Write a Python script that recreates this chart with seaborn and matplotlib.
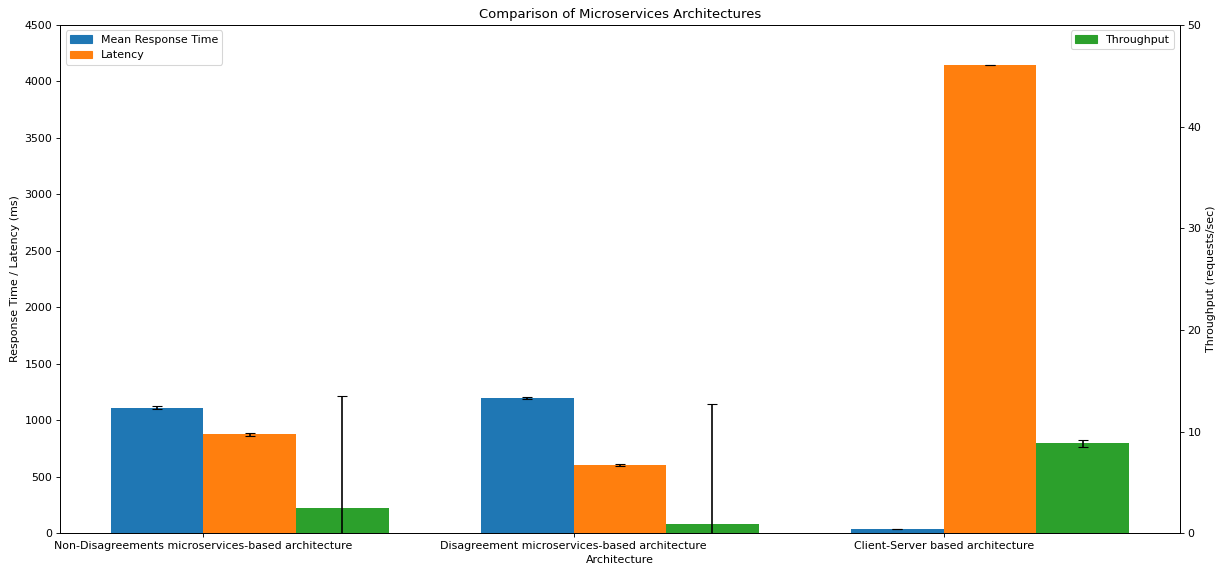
import numpy as np
import pandas as pd
import matplotlib
matplotlib.use("Agg")
import matplotlib.pyplot as plt
from matplotlib.patches import Patch
import seaborn as sns

architectures = [
    "Non-Disagreements microservices-based architecture",
    "Disagreement microservices-based architecture",
    "Client-Server based architecture",
]
mean_response_time = [1112, 1196, 38]
mean_response_err = [12, 10, 3]
latency = [874, 604, 4146]
latency_err = [12, 8, 2]
throughput = [2.49, 0.86, 8.83]
throughput_err = [11.02, 11.87, 0.38]

blue, orange, green = "#1f77b4", "#ff7f0e", "#2ca02c"
width = 0.25
x = np.arange(len(architectures))

df = pd.DataFrame({
    "Architecture": architectures * 2,
    "value": mean_response_time + latency,
    "Metric": ["Mean Response Time"] * 3 + ["Latency"] * 3,
})

DPI = 79
fig, ax = plt.subplots(figsize=(1225 / DPI, 566 / DPI), dpi=DPI)
fig.subplots_adjust(left=0.049, right=0.963, top=0.956, bottom=0.058)

sns.barplot(data=df, x="Architecture", y="value", hue="Metric",
            palette=[blue, orange], width=2 * width, saturation=1,
            errorbar=None, legend=False, ax=ax)
ax.errorbar(x - width / 2, mean_response_time, yerr=mean_response_err,
            fmt="none", ecolor="black", capsize=5)
ax.errorbar(x + width / 2, latency, yerr=latency_err,
            fmt="none", ecolor="black", capsize=5)

ax2 = ax.twinx()
sns.barplot(x=x + 1.5 * width, y=throughput, native_scale=True, width=width,
            color=green, saturation=1, errorbar=None, ax=ax2)
ax2.errorbar(x + 1.5 * width, throughput, yerr=throughput_err,
             fmt="none", ecolor="black", capsize=5)

ax.set_xlim(-0.3875, 2.6375)
ax.set_xticks(x)
ax.set_xticklabels(architectures)
ax.set_ylim(0, 4500)
ax2.set_ylim(0, 50)
ax.set_xlabel("Architecture")
ax2.set_xlabel("")
ax.set_ylabel("Response Time / Latency (ms)")
ax2.set_ylabel("Throughput (requests/sec)")
ax.set_title("Comparison of Microservices Architectures")

ax.legend(handles=[Patch(color=blue, label="Mean Response Time"),
                   Patch(color=orange, label="Latency")], loc="upper left")
ax2.legend(handles=[Patch(color=green, label="Throughput")], loc="upper right")

fig.savefig("out.png", dpi=DPI)
